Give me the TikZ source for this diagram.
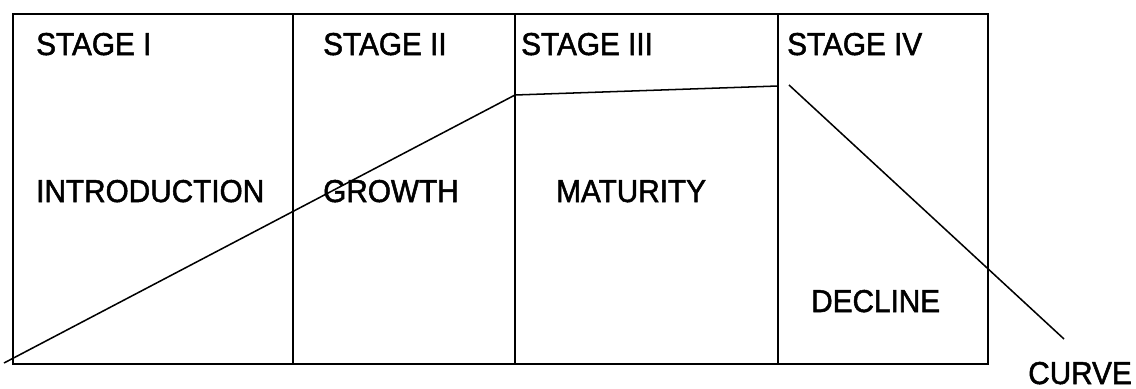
\documentclass[tikz,border=0pt]{standalone}
\usepackage{fontspec}
\setmainfont[FakeStretch=0.94, FakeBold=1.6]{Liberation Sans}
\usetikzlibrary{positioning}

\begin{document}
\begin{tikzpicture}[x=0.03cm, y=-0.03cm,
    stagetext/.style={anchor=base west, inner sep=0pt, font=\fontsize{27}{30}\selectfont},
    frame/.style={line width=1.3pt},
    curve/.style={line width=1.3pt}
]
\useasboundingbox (0,0) rectangle (1136,389);

% outer box and stage columns
\draw[frame] (13,14) rectangle (988,364);
\foreach \x in {293,515,778}
    \draw[frame] (\x,14) -- (\x,364);

% stage headings
\node[stagetext] (s1) at (36,55) {STAGE I};
\node[stagetext] (s2) at (323,55) {STAGE II};
\node[stagetext] (s3) at (521,55) {STAGE III};
\node[stagetext] (s4) at (787,55) {STAGE IV};

% stage names
\node[stagetext] (intro) at (36,202) {INTRODUCTION};
\node[stagetext] (growth) at (323,202) {GROWTH};
\node[stagetext] (mature) at (556,202) {MATURITY};
\node[stagetext] (decline) at (811,312) {DECLINE};
\node[stagetext] (curvename) at (1028,384) {CURVE};

% the life cycle curve
\coordinate (start) at (4,363);
\coordinate (peak) at (515,95);
\coordinate (plateau) at (778,86);
\coordinate (dropA) at (789,85);
\coordinate (dropB) at (1064,339);

\draw[curve] (start) -- (peak) -- (plateau);
\draw[curve] (dropA) -- (dropB);

\end{tikzpicture}
\end{document}
